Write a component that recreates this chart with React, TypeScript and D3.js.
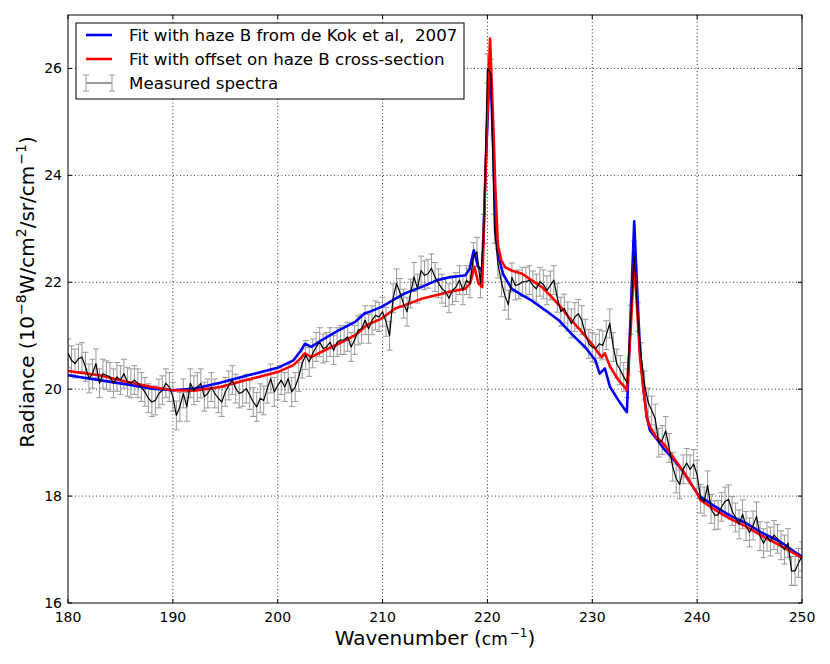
import React from "react";
import * as d3 from "d3";

// ---------- data ----------
const measuredStart = 180;
const measuredStep = 1 / 3;
const measured = [
  20.67, 20.54, 20.48, 20.57, 20.6, 20.42, 20.2, 20.29, 20.48, 20.11,
  20.29, 20.26, 20.23, 20.11, 20.23, 20.17, 20.29, 20.14, 20.11, 20.17,
  20.11, 20.04, 19.95, 19.83, 19.76, 19.79, 19.92, 19.98, 20.11, 20.04,
  19.86, 19.51, 19.67, 19.92, 19.67, 20.11, 19.98, 20.04, 20.11, 19.86,
  19.92, 20.04, 19.92, 19.83, 19.76, 19.95, 20.07, 20.17, 20.01, 19.92,
  19.95, 20.01, 19.89, 19.76, 19.67, 19.83, 19.79, 20.01, 20.2, 19.95,
  20.07, 20.17, 20.04, 20.2, 19.95, 20.04, 20.23, 20.48, 20.64, 20.51,
  20.67, 20.79, 20.88, 20.76, 20.79, 20.88, 20.73, 20.88, 20.92, 20.92,
  20.98, 20.79, 20.92, 21.1, 21.13, 21.29, 21.13, 21.29, 21.38, 21.35,
  21.45, 21.26, 21.0, 21.7, 21.98, 21.8, 21.6, 21.45, 21.79, 22.1,
  21.88, 22.22, 22.13, 22.16, 22.26, 22.1, 21.98, 21.88, 21.82, 21.7,
  21.85, 21.91, 22.04, 21.85, 22.04, 21.98, 22.47, 22.57, 21.98, 23.0,
  26.0, 25.9, 23.0, 22.35, 22.0, 21.75, 21.58, 22.09, 21.94, 21.96,
  22.01, 22.01, 22.04, 21.94, 21.88, 22.01, 21.96, 21.85, 21.94, 22.04,
  21.71, 21.45, 21.51, 21.36, 21.23, 21.35, 21.41, 21.29, 21.04, 20.85,
  20.79, 20.76, 20.85, 20.82, 21.01, 21.23, 20.79, 20.48, 20.36, 20.23,
  20.11, 21.3, 22.5, 21.35, 20.6, 20.07, 19.75, 19.6, 19.45, 19.0,
  19.05, 19.22, 18.9, 18.55, 18.33, 18.22, 18.5, 18.62, 18.5, 18.6,
  18.4, 17.95, 17.9, 18.2, 17.76, 17.64, 17.65, 17.8, 17.9, 17.94,
  17.72, 17.6, 17.47, 17.66, 17.44, 17.32, 17.45, 17.62, 17.25, 17.12,
  17.24, 17.15, 17.27, 17.2, 17.08, 17.0, 17.12, 16.6, 16.6, 16.75,
  16.87,
];
const measuredError = 0.27;

const blueW = [180, 183, 185.6, 188, 190, 192, 194.5, 197, 200, 201.5, 202.2, 202.6, 203.2, 204.2, 205.8, 207.4, 208.3, 208.8, 209.9, 211.2, 212.1, 213.7, 215.2, 216.3, 217.9, 218.3, 218.7, 219.1, 219.5, 219.9, 220.25, 220.55, 220.8, 221.1, 221.5, 222.3, 223.3, 224.2, 225.5, 226.8, 228, 229.3, 230.3, 230.7, 231.2, 231.7, 232.5, 233.1, 233.3, 233.65, 234.0, 234.25, 234.55, 234.87, 235.2, 235.5, 236.1, 236.8, 237.7, 238.7, 240, 240.3, 241.5, 243.1, 244.7, 246.3, 247.9, 249.5, 250];
const blueV = [20.26, 20.17, 20.09, 20.01, 19.98, 20.01, 20.12, 20.25, 20.4, 20.54, 20.72, 20.85, 20.79, 20.92, 21.1, 21.26, 21.42, 21.45, 21.54, 21.69, 21.79, 21.91, 22.04, 22.09, 22.13, 22.25, 22.6, 22.29, 22.22, 24.5, 26.2, 24.5, 23.0, 22.45, 22.15, 21.88, 21.76, 21.66, 21.48, 21.29, 21.04, 20.79, 20.54, 20.29, 20.39, 20.04, 19.79, 19.62, 19.57, 21.35, 23.14, 21.98, 20.73, 20.04, 19.48, 19.23, 19.08, 18.89, 18.7, 18.45, 18.05, 17.99, 17.83, 17.64, 17.49, 17.3, 17.15, 16.93, 16.87];

const redW = [180, 183, 185.6, 188, 190, 192, 194.5, 197, 200, 201.5, 202.2, 202.6, 203.2, 204.2, 205.8, 207.4, 208.5, 209.9, 211.2, 212.1, 213.7, 215.2, 216.3, 217.9, 218.35, 218.76, 219.14, 219.5, 219.9, 220.25, 220.55, 220.75, 221.0, 221.3, 221.7, 222.3, 223.3, 224.2, 225.2, 226.1, 227.1, 228, 229, 229.95, 230.6, 230.9, 231.2, 231.7, 232.5, 233.1, 233.3, 233.65, 234.0, 234.25, 234.55, 234.87, 235.2, 235.5, 236.1, 236.8, 237.7, 238.7, 240, 240.3, 241.5, 243.1, 244.7, 246.3, 247.9, 249.5, 250];
const redV = [20.34, 20.26, 20.14, 20.04, 19.98, 19.97, 20.04, 20.17, 20.32, 20.45, 20.58, 20.67, 20.6, 20.7, 20.85, 21.01, 21.2, 21.32, 21.51, 21.57, 21.69, 21.76, 21.82, 21.88, 21.98, 22.29, 21.98, 21.91, 24.6, 26.56, 25.0, 23.8, 22.7, 22.42, 22.28, 22.22, 22.16, 22.04, 21.91, 21.73, 21.51, 21.29, 21.07, 20.85, 20.67, 20.6, 20.67, 20.42, 20.17, 20.04, 19.98, 21.1, 22.38, 21.6, 20.6, 20.0, 19.48, 19.3, 19.1, 18.98, 18.73, 18.45, 18.05, 17.93, 17.77, 17.58, 17.43, 17.24, 17.08, 16.9, 16.84];

const xTicks = [180, 190, 200, 210, 220, 230, 240, 250];
const yTicks = [16, 18, 20, 22, 24, 26];
const legendLabels = [
  "Fit with haze B from de Kok et al,  2007",
  "Fit with offset on haze B cross-section",
  "Measured spectra",
];

// ---------- layout ----------
const W = 830, H = 664;
const L = 68, R = 802, T = 15, B = 603;
const FONT = "DejaVu Sans, sans-serif";

export default function App() {
  const x = d3.scaleLinear().domain([180, 250]).range([L, R]);
  const y = d3.scaleLinear().domain([16, 27]).range([B, T]);

  const meas = measured.map((v, i) => ({ w: measuredStart + i * measuredStep, v }));
  const blue = blueW.map((w, i) => ({ w, v: blueV[i] }));
  const red = redW.map((w, i) => ({ w, v: redV[i] }));

  const line = d3
    .line<{ w: number; v: number }>()
    .x((d) => x(d.w))
    .y((d) => y(d.v));

  const errColor = "#9a9a9a";
  const cap = 3;

  return (
    <svg
      width={W}
      height={H}
      style={{ position: "absolute", left: 0, top: 0, background: "#fff" }}
      fontFamily={FONT}
    >
      <rect x={0} y={0} width={W} height={H} fill="#fff" />
      <defs>
        <clipPath id="plot">
          <rect x={L} y={T} width={R - L} height={B - T} />
        </clipPath>
      </defs>

      {/* grid */}
      {xTicks.slice(1, -1).map((t) => (
        <line key={"gx" + t} x1={x(t)} x2={x(t)} y1={T} y2={B} stroke="#000" strokeWidth={0.8} strokeDasharray="1,2.5" />
      ))}
      {yTicks.slice(1).map((t) => (
        <line key={"gy" + t} x1={L} x2={R} y1={y(t)} y2={y(t)} stroke="#000" strokeWidth={0.8} strokeDasharray="1,2.5" />
      ))}

      <g clipPath="url(#plot)">
        {/* error bars */}
        {meas.map((d, i) => {
          const cx = x(d.w);
          const y1 = y(d.v + measuredError);
          const y2 = y(d.v - measuredError);
          return (
            <g key={"e" + i} stroke={errColor} strokeWidth={1}>
              <line x1={cx} x2={cx} y1={y1} y2={y2} />
              <line x1={cx - cap} x2={cx + cap} y1={y1} y2={y1} />
              <line x1={cx - cap} x2={cx + cap} y1={y2} y2={y2} />
            </g>
          );
        })}
        <path d={line(blue) || ""} fill="none" stroke="#0000ff" strokeWidth={2.6} strokeLinejoin="round" />
        <path d={line(red) || ""} fill="none" stroke="#ff0000" strokeWidth={2.6} strokeLinejoin="round" />
        <path d={line(meas) || ""} fill="none" stroke="#000" strokeWidth={1.2} strokeLinejoin="round" />
      </g>

      {/* frame */}
      <rect x={L} y={T} width={R - L} height={B - T} fill="none" stroke="#000" strokeWidth={1} />

      {/* ticks */}
      {xTicks.map((t) => (
        <g key={"tx" + t} stroke="#000" strokeWidth={1}>
          <line x1={x(t)} x2={x(t)} y1={B} y2={B - 4} />
          <line x1={x(t)} x2={x(t)} y1={T} y2={T + 4} />
        </g>
      ))}
      {yTicks.map((t) => (
        <g key={"ty" + t} stroke="#000" strokeWidth={1}>
          <line x1={L} x2={L + 4} y1={y(t)} y2={y(t)} />
          <line x1={R} x2={R - 4} y1={y(t)} y2={y(t)} />
        </g>
      ))}

      {/* tick labels */}
      {xTicks.map((t) => (
        <text key={"lx" + t} x={x(t)} y={B + 19} textAnchor="middle" fontSize={14} fill="#000">
          {t}
        </text>
      ))}
      {yTicks.map((t) => (
        <text key={"ly" + t} x={L - 6} y={y(t) + 5} textAnchor="end" fontSize={14} fill="#000">
          {t}
        </text>
      ))}

      {/* axis labels */}
      <text x={(L + R) / 2} y={645} textAnchor="middle" fontSize={20} fill="#000">
        <tspan>Wavenumber (</tspan>
        <tspan fontSize={17}>cm</tspan>
        <tspan fontSize={12} dy={-8} dx={2}>−1</tspan>
        <tspan dy={8}>)</tspan>
      </text>
      <text
        transform={`translate(34, 292) rotate(-90)`}
        textAnchor="middle"
        fontSize={20}
        fill="#000"
      >
        <tspan>Radiance (10</tspan>
        <tspan fontSize={14} dy={-8} dx={1}>−8</tspan>
        <tspan dy={8}>W/cm</tspan>
        <tspan fontSize={14} dy={-8}>2</tspan>
        <tspan dy={8}>/sr/cm</tspan>
        <tspan fontSize={14} dy={-8} dx={1}>−1</tspan>
        <tspan dy={8}>)</tspan>
      </text>

      {/* legend */}
      <g>
        <rect x={76} y={23} width={388} height={76} fill="#fff" stroke="#000" strokeWidth={1} />
        {legendLabels.map((lab, i) => {
          const cy = 35 + i * 24;
          return (
            <g key={"lg" + i}>
              {i === 0 && <line x1={86} x2={112} y1={cy} y2={cy} stroke="#0000ff" strokeWidth={2.6} />}
              {i === 1 && <line x1={86} x2={112} y1={cy} y2={cy} stroke="#ff0000" strokeWidth={2.6} />}
              {i === 2 && (
                <g>
                  <line x1={86} x2={112} y1={cy} y2={cy} stroke="#555" strokeWidth={1.2} />
                  {[86, 112].map((lx) => (
                    <g key={lx} stroke={errColor} strokeWidth={1}>
                      <line x1={lx} x2={lx} y1={cy - 8} y2={cy + 8} />
                      <line x1={lx - cap} x2={lx + cap} y1={cy - 8} y2={cy - 8} />
                      <line x1={lx - cap} x2={lx + cap} y1={cy + 8} y2={cy + 8} />
                    </g>
                  ))}
                </g>
              )}
              <text
                x={129}
                y={cy + 6}
                fontSize={16.7}
                fill="#000"
                xmlSpace="preserve"
                style={{ whiteSpace: "pre" }}
              >
                {lab}
              </text>
            </g>
          );
        })}
      </g>
    </svg>
  );
}
